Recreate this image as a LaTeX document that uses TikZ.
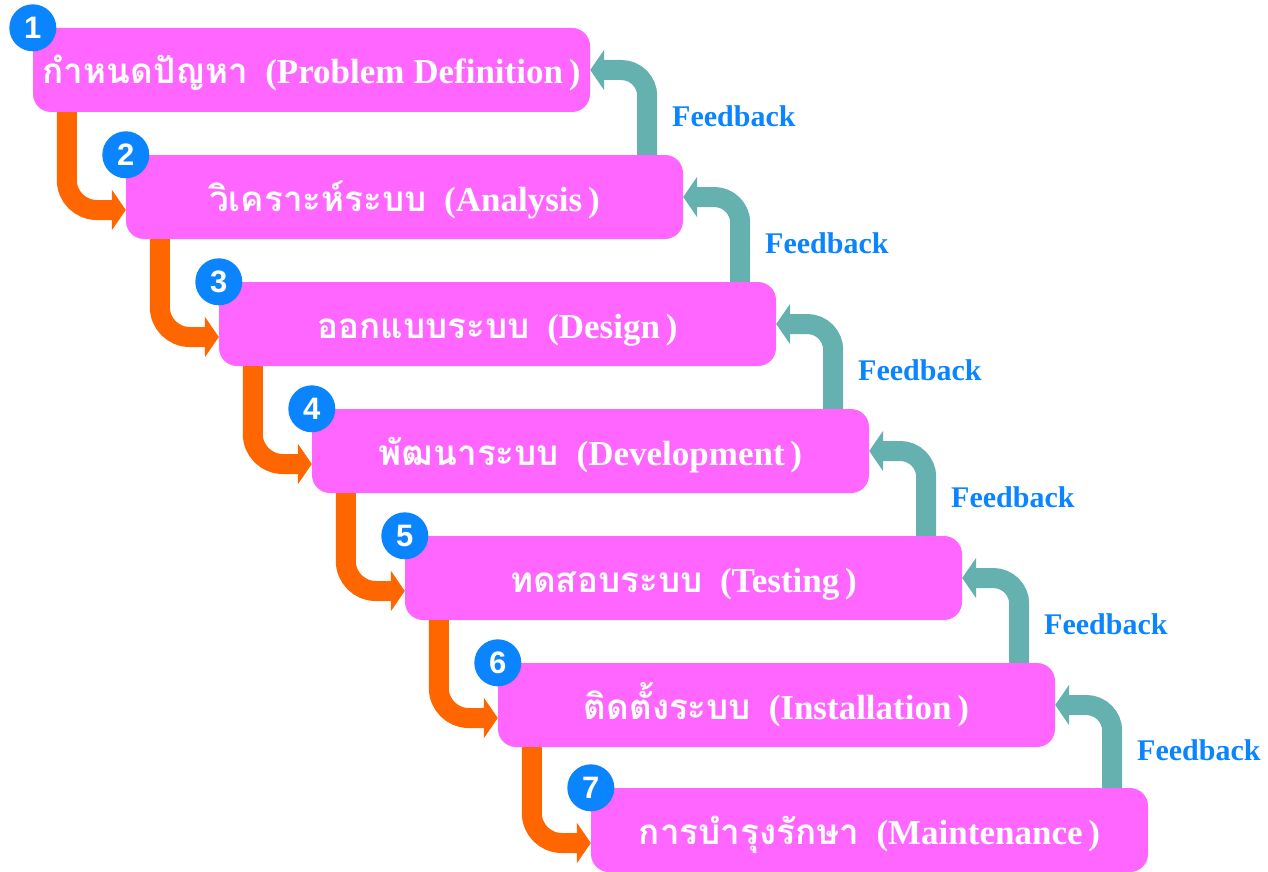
\documentclass[tikz,border=0pt]{standalone}
\usepackage{fontspec}
\setmainfont{Liberation Serif}
\newfontfamily\thaifont[Script=Thai]{Loma}
\newfontfamily\numfont{Liberation Sans}
\usetikzlibrary{arrows.meta,positioning}
\definecolor{boxpink}{HTML}{FF66FF}
\definecolor{floworange}{HTML}{FF6600}
\definecolor{fbteal}{HTML}{64B1B0}
\definecolor{numblue}{HTML}{0A84FF}
\tikzset{
  phase/.style={fill=boxpink, rounded corners=18pt, minimum width=557pt, minimum height=84pt,
    inner sep=0pt, text=white, font=\bfseries\fontsize{35}{40}\selectfont,
    text height=30pt, text depth=2pt},
  numdot/.style={circle, fill=numblue, minimum size=47pt, inner sep=0pt, text=white,
    font=\numfont\bfseries\fontsize{31}{31}\selectfont},
  flow/.style={draw=floworange, line width=20pt, rounded corners=30pt,
    -{Triangle[length=14pt,width=40pt]}},
  feedback/.style={draw=fbteal, line width=20pt, rounded corners=26pt,
    -{Triangle[length=14pt,width=40pt]}},
  fblabel/.style={text=numblue, inner sep=0pt, font=\bfseries\fontsize{30}{32}\selectfont}
}
\begin{document}
\begin{tikzpicture}[x=1pt,y=-1pt]
  \useasboundingbox (0,0) rectangle (1268,872);

  % phases
  \node[phase] (b1) at (311.5,70)  {{\thaifont กำหนดปัญหา}\enspace(Problem Definition\,)};
  \node[phase] (b2) at (404.5,197) {{\thaifont วิเคราะห์ระบบ}\enspace(Analysis\,)};
  \node[phase] (b3) at (497.5,324) {{\thaifont ออกแบบระบบ}\enspace(Design\,)};
  \node[phase] (b4) at (590.5,451) {{\thaifont พัฒนาระบบ}\enspace(Development\,)};
  \node[phase] (b5) at (683.5,578) {{\thaifont ทดสอบระบบ}\enspace(Testing\,)};
  \node[phase] (b6) at (776.5,705) {{\thaifont ติดตั้งระบบ}\enspace(Installation\,)};
  \node[phase] (b7) at (869.5,830) {{\thaifont การบำรุงรักษา}\enspace(Maintenance\,)};

  % forward flow
  \draw[flow] ([xshift=34pt]b1.south west) |- ([yshift=-13pt]b2.west);
  \draw[flow] ([xshift=34pt]b2.south west) |- ([yshift=-13pt]b3.west);
  \draw[flow] ([xshift=34pt]b3.south west) |- ([yshift=-13pt]b4.west);
  \draw[flow] ([xshift=34pt]b4.south west) |- ([yshift=-13pt]b5.west);
  \draw[flow] ([xshift=34pt]b5.south west) |- ([yshift=-13pt]b6.west);
  \draw[flow] ([xshift=34pt]b6.south west) |- ([yshift=-13pt]b7.west);

  % feedback
  \draw[feedback] ([xshift=-36pt]b2.north east) |- (b1.east)
    node[pos=0.25, fblabel, right=15pt, yshift=-4pt] (f1) {Feedback};
  \draw[feedback] ([xshift=-36pt]b3.north east) |- (b2.east)
    node[pos=0.25, fblabel, right=15pt, yshift=-4pt] (f2) {Feedback};
  \draw[feedback] ([xshift=-36pt]b4.north east) |- (b3.east)
    node[pos=0.25, fblabel, right=15pt, yshift=-4pt] (f3) {Feedback};
  \draw[feedback] ([xshift=-36pt]b5.north east) |- (b4.east)
    node[pos=0.25, fblabel, right=15pt, yshift=-4pt] (f4) {Feedback};
  \draw[feedback] ([xshift=-36pt]b6.north east) |- (b5.east)
    node[pos=0.25, fblabel, right=15pt, yshift=-4pt] (f5) {Feedback};
  \draw[feedback] ([xshift=-36pt]b7.north east) |- (b6.east)
    node[pos=0.25, fblabel, right=15pt, yshift=-4pt] (f6) {Feedback};

  % step numbers
  \node[numdot] (n1) at (b1.north west) {1};
  \node[numdot] (n2) at (b2.north west) {2};
  \node[numdot] (n3) at (b3.north west) {3};
  \node[numdot] (n4) at (b4.north west) {4};
  \node[numdot] (n5) at (b5.north west) {5};
  \node[numdot] (n6) at (b6.north west) {6};
  \node[numdot] (n7) at (b7.north west) {7};
\end{tikzpicture}
\end{document}
